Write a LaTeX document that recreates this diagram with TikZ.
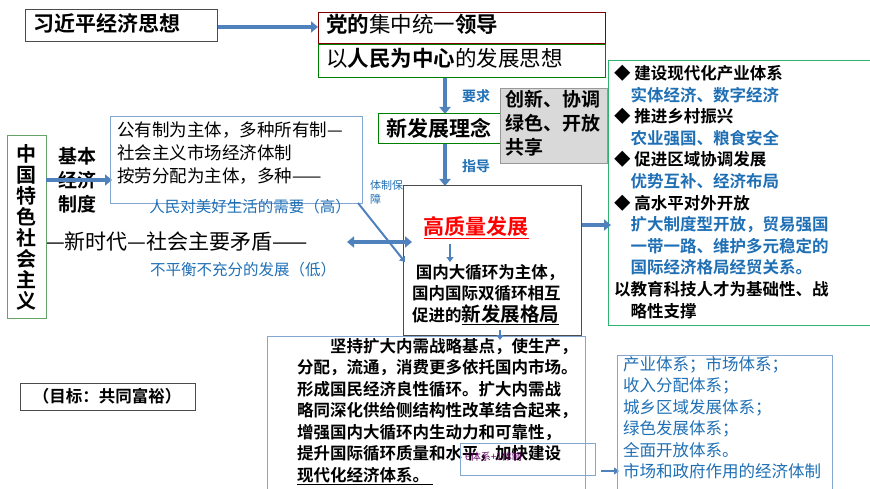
\documentclass[tikz,border=0pt]{standalone}
\usepackage{fontspec}
\setmainfont{Noto Sans CJK SC}[BoldFont={* Bold}]
\usepackage{tikz}
\usetikzlibrary{arrows.meta,positioning}
\definecolor{arrowblue}{RGB}{79,129,189}
\definecolor{textblue}{RGB}{31,111,181}
\definecolor{boxgray}{RGB}{217,217,217}
\tikzset{
  bigarrow/.style={arrowblue, line width=4pt, -{Triangle[length=7pt,width=11pt]}},
  thinarrow/.style={arrowblue, line width=2pt, -{Triangle[length=5pt,width=7pt]}},
  plainbox/.style={draw=black!70, thin},
  bluebox/.style={draw=arrowblue!70, thin},
  txt/.style={inner sep=0pt, anchor=north west, align=left},
}
\begin{document}
\begin{tikzpicture}[x=1pt,y=-1pt]
\useasboundingbox (0,0) rectangle (870,489);

% top row
\draw[plainbox, line width=1pt] (25,10) rectangle (217,42);
\node[txt, font=\bfseries\fontsize{21}{21}\selectfont] (xi) at (33,13) {习近平经济思想};
\draw[plainbox, draw=red!50!black] (318,12) rectangle (605,43);
\node[txt, font=\fontsize{21.5}{21.5}\selectfont] (dang) at (326,14) {\textbf{党的}集中统一\textbf{领导}};
\draw[bigarrow] (218,27) -- (318,27);
\draw[draw=green!50!black] (318,44) rectangle (605,77);
\node[txt, font=\fontsize{21.5}{21.5}\selectfont] (renmin) at (326,48) {以\textbf{人民为中心}的发展思想};

% new concept
\draw[bigarrow] (445,78) -- (445,114);
\node[font=\bfseries\fontsize{14}{14}\selectfont, text=textblue] (yaoqiu) at (476,96) {要求};
\draw[draw=green!50!black] (378,113) rectangle (500,143);
\node[font=\bfseries\fontsize{21}{21}\selectfont] (xinfazhan) at (439,128) {新发展理念};
\draw[draw=black!40, fill=boxgray] (500,88) rectangle (607,163);
\node[txt, font=\bfseries\fontsize{19}{24}\selectfont] (wuda) at (505,90) {创新、协调\\绿色、开放\\共享};
\draw[bigarrow] (445,144) -- (445,186);
\node[font=\bfseries\fontsize{14}{14}\selectfont, text=textblue] (zhidao) at (476,166) {指导};

% high quality development
\draw[plainbox] (403,185) rectangle (581,335);
\node[font=\bfseries\fontsize{21}{21}\selectfont, text=red] (gaozhiliang) at (476,228) {\underline{高质量发展}};
\draw[thinarrow] (450,244) -- (450,262);
\node[txt, font=\bfseries\fontsize{16.5}{21.5}\selectfont] (xunhuan) at (412,264) {\ 国内大循环为主体，\\国内国际双循环相互\\促进的\underline{\fontsize{19.5}{19.5}\selectfont 新发展格局}};

% right box
\draw[draw=green!40!arrowblue] (608,60) rectangle (870,325);
\draw[bigarrow] (582,225) -- (611,225);
\node[txt, font=\bfseries\fontsize{16.5}{21.6}\selectfont] (jianshe) at (614,65) {%
◆\ 建设现代化产业体系\\
\quad\textcolor{textblue}{实体经济、数字经济}\\
◆\ 推进乡村振兴\\
\quad\textcolor{textblue}{农业强国、粮食安全}\\
◆\ 促进区域协调发展\\
\quad\textcolor{textblue}{优势互补、经济布局}\\
◆\ 高水平对外开放\\
\quad\textcolor{textblue}{扩大制度型开放，贸易强国}\\
\quad\textcolor{textblue}{一带一路、维护多元稳定的}\\
\quad\textcolor{textblue}{国际经济格局经贸关系。}\\
以教育科技人才为基础性、战\\
\quad 略性支撑};

% left side
\draw[plainbox, draw=green!40!black!60] (7,135) rectangle (46,318);
\node[font=\bfseries\fontsize{20}{21}\selectfont, align=center] (zhongguo) at (26.5,227) {中\\国\\特\\色\\社\\会\\主\\义};
\node[txt, font=\bfseries\fontsize{19}{24}\selectfont] (jiben) at (58,147) {基本\\经济\\制度};
\draw[bigarrow] (46,180) -- (112,180);
\draw[bluebox] (110,116) rectangle (362,203);
\node[txt, font=\fontsize{17.5}{23}\selectfont] (gongyou) at (117,122) {公有制为主体，多种所有制—\\社会主义市场经济体制\\按劳分配为主体，多种——};
\draw[thinarrow] (358,203) -- (405,262);
\node[txt, font=\fontsize{11}{14}\selectfont, text=textblue] (tizhi) at (370,180) {体制保\\障};
\node[font=\fontsize{15.5}{15.5}\selectfont, text=textblue] (renmin2) at (250,207) {人民对美好生活的需要（高）};
\node[anchor=west, inner sep=0pt, font=\fontsize{21}{21}\selectfont] (maodun) at (46,242) {—新时代—社会主要矛盾——};
\draw[arrowblue, line width=4pt, {Triangle[length=7pt,width=11pt]}-{Triangle[length=7pt,width=11pt]}] (347,242) -- (412,242);
\node[font=\fontsize{15.5}{15.5}\selectfont, text=textblue] (buping) at (243,270) {不平衡不充分的发展（低）};
\draw[plainbox] (20,383) rectangle (195,410);
\node[font=\bfseries\fontsize{16.5}{16.5}\selectfont] (mubiao) at (107,396) {（目标：共同富裕）};

% bottom
\draw[bluebox] (267,336) rectangle (585,489);
\draw[thinarrow] (500,330) -- (500,340);
\node[txt, font=\bfseries\fontsize{16.5}{21.5}\selectfont] (jianchi) at (297,338) {%
\qquad 坚持扩大内需战略基点，使生产，\\
分配，流通，消费更多依托国内市场。\\
形成国民经济良性循环。扩大内需战\\
略同深化供给侧结构性改革结合起来，\\
增强国内大循环内生动力和可靠性，\\
提升国际循环质量和水平，加快建设\\
\underline{现代化经济体系。\ }};
\draw[bluebox] (460,443) rectangle (595,475);
\node[txt, font=\fontsize{10}{10}\selectfont, text=violet!80!black] (tixi) at (465,452) {6体系+1体制};
\draw[thinarrow] (601,471) -- (619,471);
\draw[bluebox] (617,355) rectangle (832,489);
\node[txt, font=\fontsize{16.5}{21.5}\selectfont, text=textblue] (chanye) at (623,356) {%
产业体系；市场体系；\\收入分配体系；\\城乡区域发展体系；\\绿色发展体系；\\全面开放体系。\\市场和政府作用的经济体制};
\end{tikzpicture}
\end{document}
